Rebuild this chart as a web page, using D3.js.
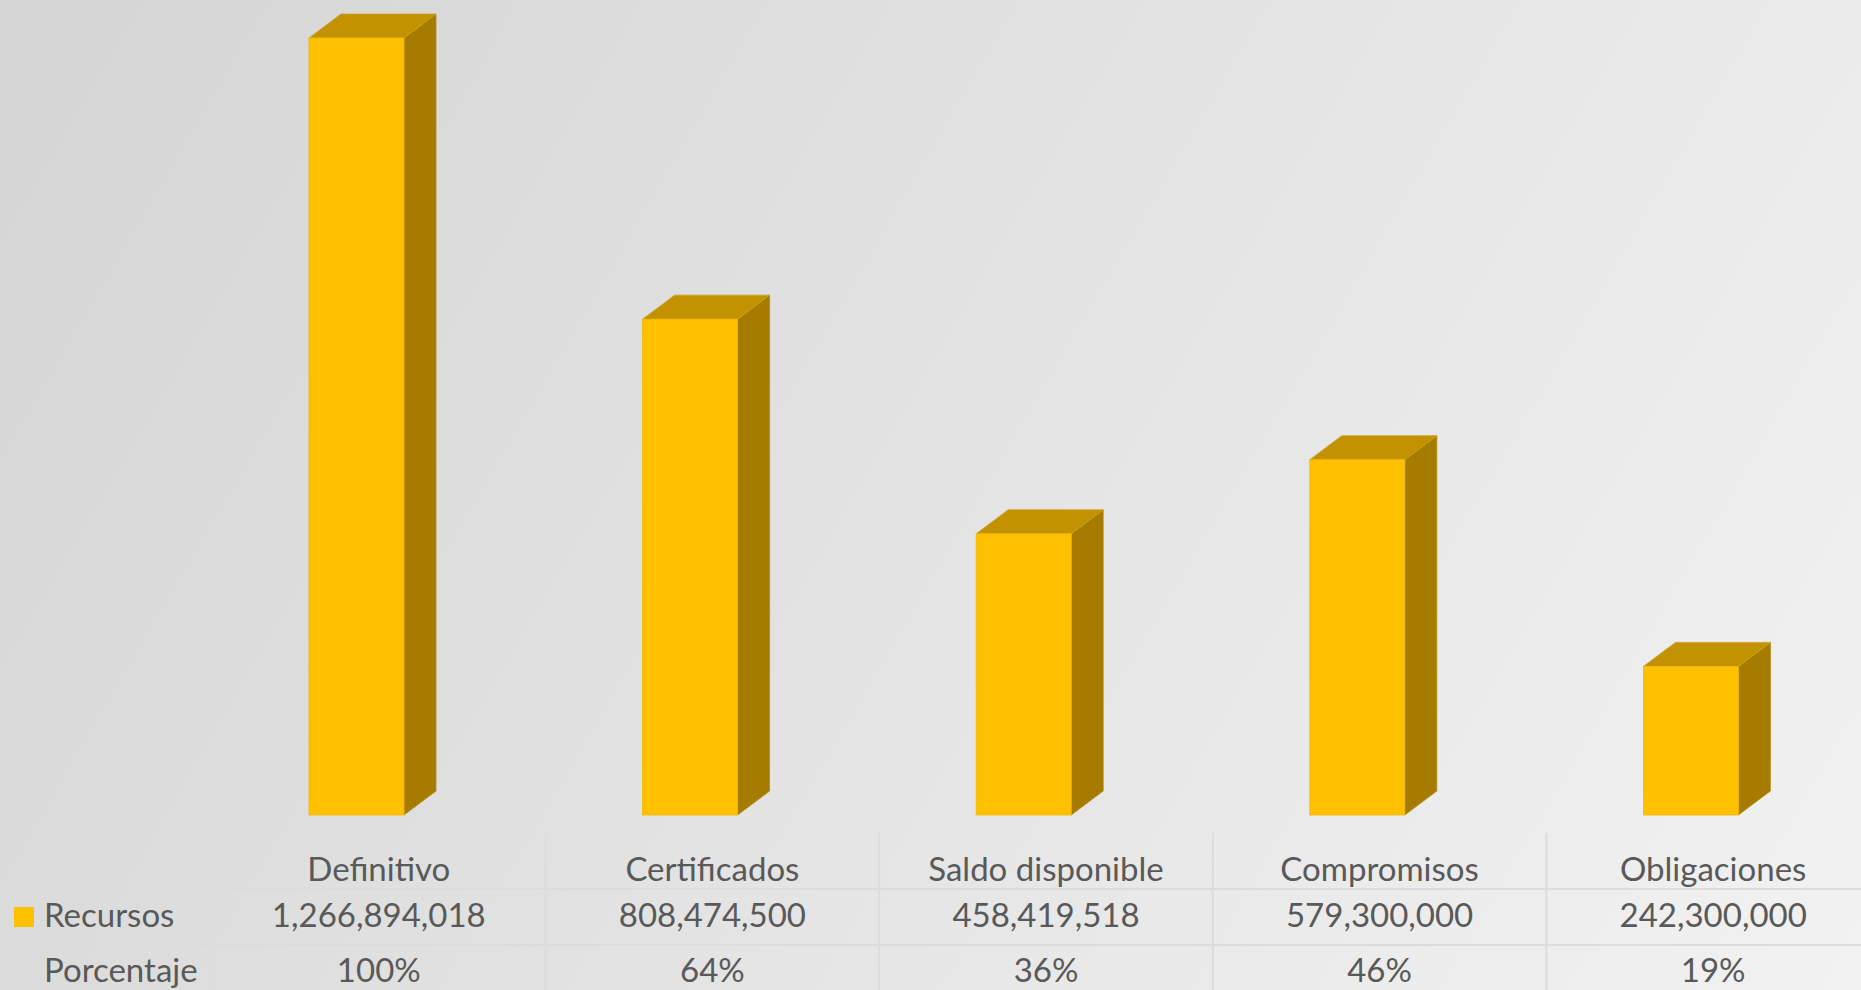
<!DOCTYPE html>
<html>
<head>
<meta charset="utf-8">
<script src="https://cdn.jsdelivr.net/npm/d3@7"></script>
<style>
  html, body { margin: 0; padding: 0; overflow: hidden; }
  text { font-family: Lato, "Open Sans", sans-serif; fill: #595959; }
</style>
</head>
<body>
<div id="chart"></div>
<script>
// chart data
const categories = ["Definitivo", "Certificados", "Saldo disponible", "Compromisos", "Obligaciones"];
const recursos = [1266894018, 808474500, 458419518, 579300000, 242300000];
const porcentaje = [1.00, 0.64, 0.36, 0.46, 0.19];
const seriesNames = ["Recursos", "Porcentaje"];

const width = 1861,
  height = 990

const svg = d3.select("#chart")
  .append("svg")
  .attr("width", width)
  .attr("height", height)

// background gradient
const defs = svg.append("defs")
const grad = defs.append("linearGradient")
  .attr("id", "bg")
  .attr("gradientUnits", "userSpaceOnUse")
  .attr("x1", 0).attr("y1", 200)
  .attr("x2", width).attr("y2", height + 300)
grad.append("stop").attr("offset", "0%").attr("stop-color", "#d6d6d6")
grad.append("stop").attr("offset", "100%").attr("stop-color", "#f4f4f4")

svg.append("rect")
  .attr("width", width)
  .attr("height", height)
  .attr("fill", "url(#bg)")

// scales
const x = d3.scaleBand()
  .domain(categories)
  .range([212, 1880])
  .padding(0)

const y = d3.scaleLinear()
  .domain([0, d3.max(recursos)])
  .range([815, 38])

const barOffset = 97,
  barWidth = 95,
  depthX = 32,
  depthY = 24

const bars = svg.append("g")
  .selectAll("g")
  .data(categories.map((c, i) => ({cat: c, value: recursos[i]})))
  .enter()
  .append("g")

// right side face
bars.append("path")
  .attr("d", d => {
    const x0 = x(d.cat) + barOffset + barWidth
    const top = y(d.value), bottom = y(0)
    return "M" + x0 + "," + top + " L" + (x0 + depthX) + "," + (top - depthY) +
      " L" + (x0 + depthX) + "," + (bottom - depthY) + " L" + x0 + "," + bottom + "Z"
  })
  .attr("fill", "#a67c00")
  .attr("stroke", "#b38a10")
  .attr("stroke-width", 0.8)

// top face
bars.append("path")
  .attr("d", d => {
    const x0 = x(d.cat) + barOffset
    const top = y(d.value)
    return "M" + x0 + "," + top + " L" + (x0 + depthX) + "," + (top - depthY) +
      " L" + (x0 + barWidth + depthX) + "," + (top - depthY) + " L" + (x0 + barWidth) + "," + top + "Z"
  })
  .attr("fill", "#c29200")
  .attr("stroke", "#cfa020")
  .attr("stroke-width", 0.8)

// front face
bars.append("rect")
  .attr("x", d => x(d.cat) + barOffset)
  .attr("y", d => y(d.value))
  .attr("width", barWidth)
  .attr("height", d => y(0) - y(d.value))
  .attr("fill", "#ffc000")
  .attr("stroke", "#f0b800")
  .attr("stroke-width", 0.8)

// DATA TABLE
const rowLines = [889, 945]
const lineColor = "#dcdcdc"

svg.append("g")
  .selectAll("line")
  .data(rowLines)
  .enter()
  .append("line")
  .attr("x1", 0)
  .attr("x2", width)
  .attr("y1", d => d)
  .attr("y2", d => d)
  .attr("stroke", lineColor)
  .attr("stroke-width", 2)

// dividers between categories
svg.append("g")
  .selectAll("line")
  .data(categories.slice(1))
  .enter()
  .append("line")
  .attr("x1", d => x(d))
  .attr("x2", d => x(d))
  .attr("y1", 833)
  .attr("y2", height)
  .attr("stroke", lineColor)
  .attr("stroke-width", 2)

svg.append("line")
  .attr("x1", x(categories[0]))
  .attr("x2", x(categories[0]))
  .attr("y1", 889)
  .attr("y2", height)
  .attr("stroke", lineColor)
  .attr("stroke-width", 1)
  .attr("opacity", 0.6)

const fontSize = 33
const fmt = d3.format(",")
const pct = d3.format(".0%")

// category header
svg.append("g")
  .selectAll("text")
  .data(categories)
  .enter()
  .append("text")
  .attr("x", d => x(d) + x.bandwidth() / 2)
  .attr("y", 881)
  .attr("text-anchor", "middle")
  .style("font-size", fontSize + "px")
  .text(d => d)

// recursos row
svg.append("g")
  .selectAll("text")
  .data(recursos)
  .enter()
  .append("text")
  .attr("x", (d, i) => x(categories[i]) + x.bandwidth() / 2)
  .attr("y", 927)
  .attr("text-anchor", "middle")
  .style("font-size", fontSize + "px")
  .text(d => fmt(d))

// porcentaje row
svg.append("g")
  .selectAll("text")
  .data(porcentaje)
  .enter()
  .append("text")
  .attr("x", (d, i) => x(categories[i]) + x.bandwidth() / 2)
  .attr("y", 982)
  .attr("text-anchor", "middle")
  .style("font-size", fontSize + "px")
  .text(d => pct(d))

// row labels with legend key
svg.append("rect")
  .attr("x", 14)
  .attr("y", 907)
  .attr("width", 20)
  .attr("height", 20)
  .attr("fill", "#ffc000")

svg.append("g")
  .selectAll("text")
  .data(seriesNames)
  .enter()
  .append("text")
  .attr("x", 44)
  .attr("y", (d, i) => i === 0 ? 927 : 982)
  .style("font-size", fontSize + "px")
  .text(d => d)
</script>
</body>
</html>
